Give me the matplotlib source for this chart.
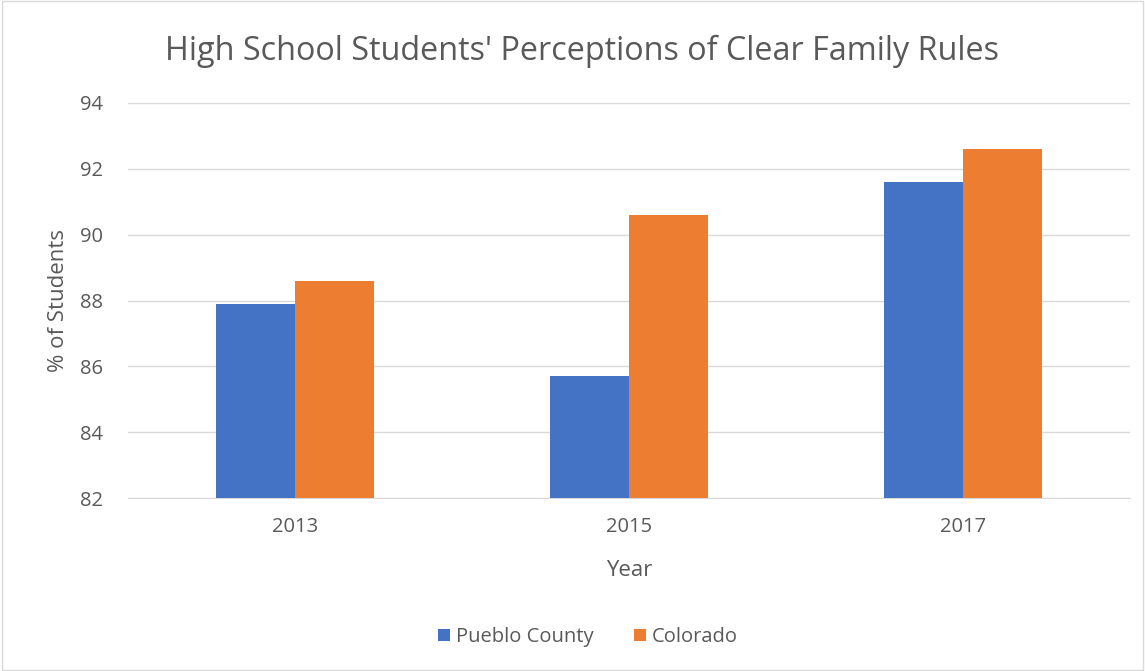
import numpy as np
import matplotlib.pyplot as plt
from matplotlib.patches import Rectangle

years = ['2013', '2015', '2017']
pueblo = [87.9, 85.7, 91.6]
colorado = [88.6, 90.6, 92.6]

plt.rcParams['font.family'] = ['Open Sans', 'DejaVu Sans']

fig = plt.figure(figsize=(11.45, 6.71), dpi=100)
ax = fig.add_axes([128 / 1145, 1 - 498 / 671, 1002 / 1145, 395 / 671])

x = np.arange(len(years))
w = 0.237
ax.bar(x - w / 2, np.array(pueblo) - 82, w, bottom=82, color='#4472C4', label='Pueblo County', zorder=3)
ax.bar(x + w / 2, np.array(colorado) - 82, w, bottom=82, color='#ED7D31', label='Colorado', zorder=3)

ax.set_ylim(82, 94)
ax.set_xlim(-0.5, 2.5)
ax.set_yticks(range(82, 95, 2))
ax.set_xticks(x)
ax.set_xticklabels(years)
ax.yaxis.grid(True, color='#D9D9D9', linewidth=1, zorder=0)
for s in ['top', 'right', 'left']:
    ax.spines[s].set_visible(False)
ax.spines['bottom'].set_color('#D9D9D9')
ax.tick_params(axis='both', length=0, labelsize=14.5, colors='#595959')
ax.tick_params(axis='x', pad=14)
ax.tick_params(axis='y', pad=18)

ax.set_xlabel('Year', fontsize=16, color='#595959', labelpad=16)
ax.set_ylabel('% of Students', fontsize=16, color='#595959', labelpad=8)
fig.text(582 / 1145, 1 - 51 / 671, "High School Students' Perceptions of Clear Family Rules",
         ha='center', va='center', fontsize=23.3, color='#595959')

fig.legend(loc='center', bbox_to_anchor=(588 / 1145, 1 - 637 / 671), ncol=2, frameon=False,
           fontsize=14.5, handlelength=0.6, handleheight=0.6, handletextpad=0.3,
           columnspacing=2.0, labelcolor='#595959')

fig.patches.append(Rectangle((0.002, 0.002), 0.996, 0.996, transform=fig.transFigure,
                             fill=False, edgecolor='#D9D9D9', linewidth=1))

fig.savefig('out.png', dpi=100)
